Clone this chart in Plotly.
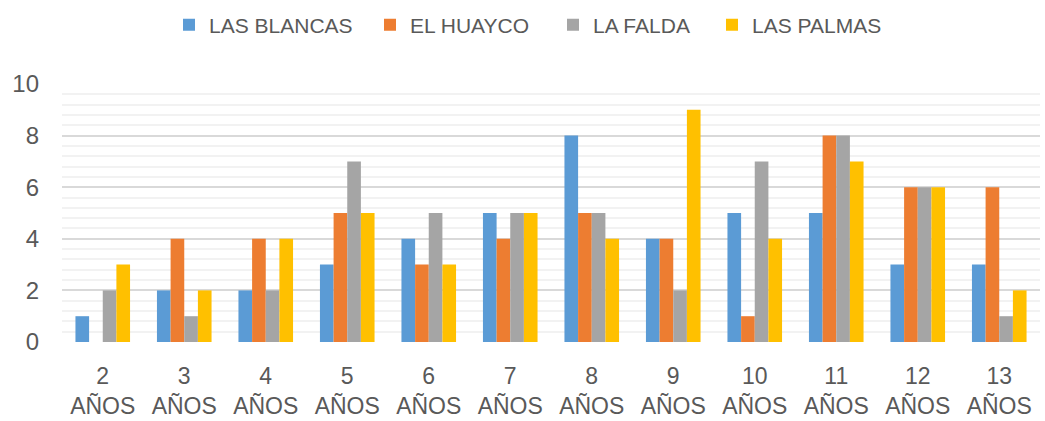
import plotly.graph_objects as go

categories = ["2<br>AÑOS", "3<br>AÑOS", "4<br>AÑOS", "5<br>AÑOS", "6<br>AÑOS", "7<br>AÑOS",
              "8<br>AÑOS", "9<br>AÑOS", "10<br>AÑOS", "11<br>AÑOS", "12<br>AÑOS", "13<br>AÑOS"]
las_blancas = [1, 2, 2, 3, 4, 5, 8, 4, 5, 5, 3, 3]
el_huayco = [0, 4, 4, 5, 3, 4, 5, 4, 1, 8, 6, 6]
la_falda = [2, 1, 2, 7, 5, 5, 5, 2, 7, 8, 6, 1]
las_palmas = [3, 2, 4, 5, 3, 5, 4, 9, 4, 7, 6, 2]

series_names = ["LAS BLANCAS", "EL HUAYCO", "LA FALDA", "LAS PALMAS"]
series_values = [las_blancas, el_huayco, la_falda, las_palmas]
series_colors = ["#5B9BD5", "#ED7D31", "#A5A5A5", "#FFC000"]
legend_text_x = [209, 410, 593, 752]  # left edge of each legend label, px

W, H = 1045, 421
font = "Liberation Sans"
fig = go.Figure()
legend_layout = {}
for i, (name, vals, col) in enumerate(zip(series_names, series_values, series_colors)):
    lg = "legend" if i == 0 else f"legend{i + 1}"
    fig.add_trace(go.Bar(x=categories, y=vals, name=name, marker_color=col,
                         marker_line_width=0, legend=lg, showlegend=True))
    legend_layout[lg] = dict(
        orientation="h", x=(legend_text_x[i] - 40) / W, xanchor="left", xref="container",
        y=1 - 25 / H, yanchor="middle", yref="container", bgcolor="rgba(0,0,0,0)",
        font=dict(size=21, color="#595959", family=font), itemwidth=30, visible=True)

fig.update_layout(
    width=W, height=H, showlegend=True,
    margin=dict(l=62, r=5, t=84, b=79, autoexpand=False),
    paper_bgcolor="white", plot_bgcolor="white",
    barmode="group", bargap=0.33, bargroupgap=0,
    font=dict(family=font, color="#595959", size=20),
    xaxis=dict(showgrid=False, showline=False, ticks="", tickfont=dict(size=23),
               automargin=False, ticklabelstandoff=18),
    yaxis=dict(range=[0, 10], dtick=2, showgrid=True, gridcolor="#D9D9D9", gridwidth=2,
               zeroline=False, tickfont=dict(size=24), ticklabelstandoff=22, automargin=False,
               minor=dict(dtick=0.4, showgrid=True, gridcolor="#F2F2F2", gridwidth=2)),
    **legend_layout,
)
fig.write_html("out.html", config={"displayModeBar": False},
               post_script="document.body.style.margin='0';document.body.style.overflow='hidden';")
